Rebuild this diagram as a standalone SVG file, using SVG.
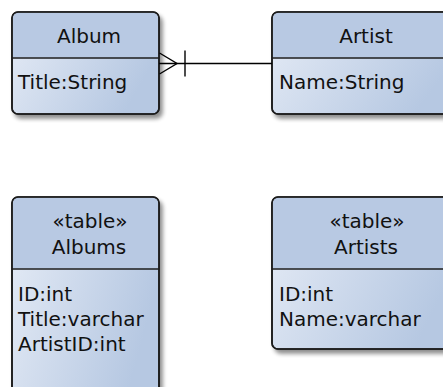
<svg xmlns="http://www.w3.org/2000/svg" width="443" height="387" viewBox="0 0 443 387">
<defs>
<linearGradient id="body" x1="0" y1="0" x2="1" y2="0.4">
<stop offset="0" stop-color="#e6ecf6"/>
<stop offset="1" stop-color="#b6c8e2"/>
</linearGradient>
<filter id="sh" x="-10%" y="-10%" width="130%" height="130%">
<feGaussianBlur in="SourceAlpha" stdDeviation="2"/>
<feOffset dx="3" dy="4" result="b"/>
<feComponentTransfer><feFuncA type="linear" slope="0.45"/></feComponentTransfer>
<feMerge><feMergeNode/><feMergeNode in="SourceGraphic"/></feMerge>
</filter>
</defs>
<style>
.box{fill:url(#body);stroke:#1c1c1c;stroke-width:1.6}
.hdr{fill:#b8c9e3}
.sep{stroke:#1c1c1c;stroke-width:1.6}
text{font-family:"DejaVu Sans",sans-serif;font-size:20px;fill:#111}
.c{text-anchor:middle}
.conn{stroke:#000;stroke-width:1.4;fill:none}
</style>
<g id="Album">
<g filter="url(#sh)">
<rect class="box" x="12" y="12" width="147" height="102" rx="6"/>
</g>
<path class="hdr" d="M18,12.8 H153 A5.2,5.2 0 0 1 158.2,18 V57.5 H12.8 V18 A5.2,5.2 0 0 1 18,12.8 Z"/>
<rect x="12" y="12" width="147" height="102" rx="6" fill="none" stroke="#1c1c1c" stroke-width="1.6"/>
<line class="sep" x1="12" y1="58" x2="159" y2="58"/>
<text class="c" x="89" y="43">Album</text>
<text x="18" y="89">Title:String</text>
</g>
<g id="Artist">
<g filter="url(#sh)">
<rect class="box" x="272" y="12" width="188" height="102" rx="6"/>
</g>
<path class="hdr" d="M278,12.8 H454 A5.2,5.2 0 0 1 459.2,18 V57.5 H272.8 V18 A5.2,5.2 0 0 1 278,12.8 Z"/>
<rect x="272" y="12" width="188" height="102" rx="6" fill="none" stroke="#1c1c1c" stroke-width="1.6"/>
<line class="sep" x1="272" y1="58" x2="460" y2="58"/>
<text class="c" x="366" y="43">Artist</text>
<text x="279" y="89">Name:String</text>
</g>
<g id="Albums">
<g filter="url(#sh)">
<rect class="box" x="12" y="197" width="147" height="210" rx="6"/>
</g>
<path class="hdr" d="M18,197.8 H153 A5.2,5.2 0 0 1 158.2,203 V268.5 H12.8 V203 A5.2,5.2 0 0 1 18,197.8 Z"/>
<rect x="12" y="197" width="147" height="210" rx="6" fill="none" stroke="#1c1c1c" stroke-width="1.6"/>
<line class="sep" x1="12" y1="269" x2="159" y2="269"/>
<text class="c" x="90" y="228">«table»</text>
<text class="c" x="89" y="254">Albums</text>
<text x="18" y="301">ID:int</text>
<text x="18" y="326">Title:varchar</text>
<text x="18" y="351">ArtistID:int</text>
</g>
<g id="Artists">
<g filter="url(#sh)">
<rect class="box" x="272" y="197" width="188" height="152" rx="6"/>
</g>
<path class="hdr" d="M278,197.8 H454 A5.2,5.2 0 0 1 459.2,203 V268.5 H272.8 V203 A5.2,5.2 0 0 1 278,197.8 Z"/>
<rect x="272" y="197" width="188" height="152" rx="6" fill="none" stroke="#1c1c1c" stroke-width="1.6"/>
<line class="sep" x1="272" y1="269" x2="460" y2="269"/>
<text class="c" x="367" y="228">«table»</text>
<text class="c" x="366" y="254">Artists</text>
<text x="279" y="301">ID:int</text>
<text x="279" y="326">Name:varchar</text>
</g>
<g id="connectors">
<line class="conn" x1="159" y1="63.5" x2="272" y2="63.5"/>
<polyline class="conn" points="159.5,53 177,63.5 159.5,74"/>
<line class="conn" x1="185" y1="50.5" x2="185" y2="76.5"/>
</g>
</svg>
